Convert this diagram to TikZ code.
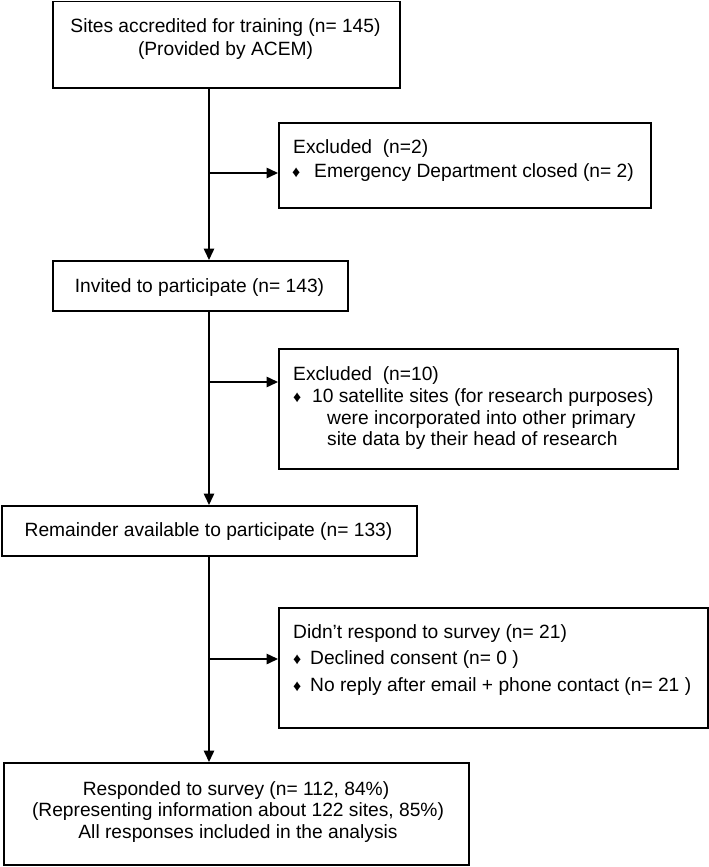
\documentclass[tikz,border=0pt]{standalone}
\usepackage{fontspec}
\setmainfont{Liberation Sans}
\usetikzlibrary{arrows.meta}
\begin{document}
\begin{tikzpicture}[x=1pt,y=-1pt,
  box/.style={draw, line width=1.5pt, inner sep=0pt, anchor=north west},
  txt/.style={inner sep=0pt, font=\fontsize{19.2}{23}\selectfont},
  ctxt/.style={txt, anchor=base},
  ltxt/.style={txt, anchor=base west},
  bul/.style={inner sep=0pt, anchor=base west, font=\fontsize{16}{18}\selectfont},
  arr/.style={line width=1.5pt, -{Triangle[length=11.5pt,width=10.5pt]}},
  ln/.style={line width=1.5pt}]
\useasboundingbox (0,0) rectangle (709,867);
% boxes
\node[box, minimum width=347pt, minimum height=86pt]  (b1) at (52,1) {};
\node[box, minimum width=372pt, minimum height=85pt]  (b2) at (278,122) {};
\node[box, minimum width=295pt, minimum height=50pt]  (b3) at (52,260) {};
\node[box, minimum width=399pt, minimum height=120pt] (b4) at (278,348) {};
\node[box, minimum width=415pt, minimum height=50pt]  (b5) at (1,505) {};
\node[box, minimum width=429pt, minimum height=120pt] (b6) at (278,607) {};
\node[box, minimum width=465pt, minimum height=102pt] (b7) at (3,762) {};
% texts
\node[ctxt] (t1a) at (225.5,32.5) {Sites accredited for training (n= 145)};
\node[ctxt] (t1b) at (225.5,55.5) {(Provided by ACEM)};
\node[ltxt] (t2a) at (293,153.5) {Excluded\ \ (n=2)};
\node[bul]  (d2b) at (292,177) {♦};
\node[ltxt] (t2b) at (314,177.5) {Emergency Department closed (n= 2)};
\node[ctxt] (t3)  at (199.5,292.5) {Invited to participate (n= 143)};
\node[ltxt] (t4a) at (293,380.5) {Excluded\ \ (n=10)};
\node[bul]  (d4b) at (293,402) {♦};
\node[ltxt] (t4b) at (312,402.5) {10 satellite sites (for research purposes)};
\node[ltxt] (t4c) at (327,424.5) {were incorporated into other primary};
\node[ltxt] (t4d) at (327,445.5) {site data by their head of research};
\node[ctxt] (t5)  at (208.5,536.5) {Remainder available to participate (n= 133)};
\node[ltxt] (t6a) at (293,638.5) {Didn’t respond to survey (n= 21)};
\node[bul]  (d6b) at (293,664) {♦};
\node[ltxt] (t6b) at (310,664.5) {Declined consent (n= 0 )};
\node[bul]  (d6c) at (293,691) {♦};
\node[ltxt] (t6c) at (310,691.5) {No reply after email + phone contact (n= 21 )};
\node[ctxt] (t7a) at (236,795.5) {Responded to survey (n= 112, 84\%)};
\node[ctxt] (t7b) at (238,816.5) {(Representing information about 122 sites, 85\%)};
\node[ctxt] (t7c) at (238,838.5) {All responses included in the analysis};
% connectors
\coordinate (sp) at (209,0);
\coordinate (j1) at (209,173);
\coordinate (j2) at (209,382);
\coordinate (j3) at (209,659);
\draw[arr] (b1.south -| sp) -- (b3.north -| sp);
\draw[arr] (b3.south -| sp) -- (b5.north -| sp);
\draw[arr] (b5.south -| sp) -- (b7.north -| sp);
\draw[arr] (j1) -- (j1 -| b2.west);
\draw[arr] (j2) -- (j2 -| b4.west);
\draw[arr] (j3) -- (j3 -| b6.west);
\end{tikzpicture}
\end{document}
